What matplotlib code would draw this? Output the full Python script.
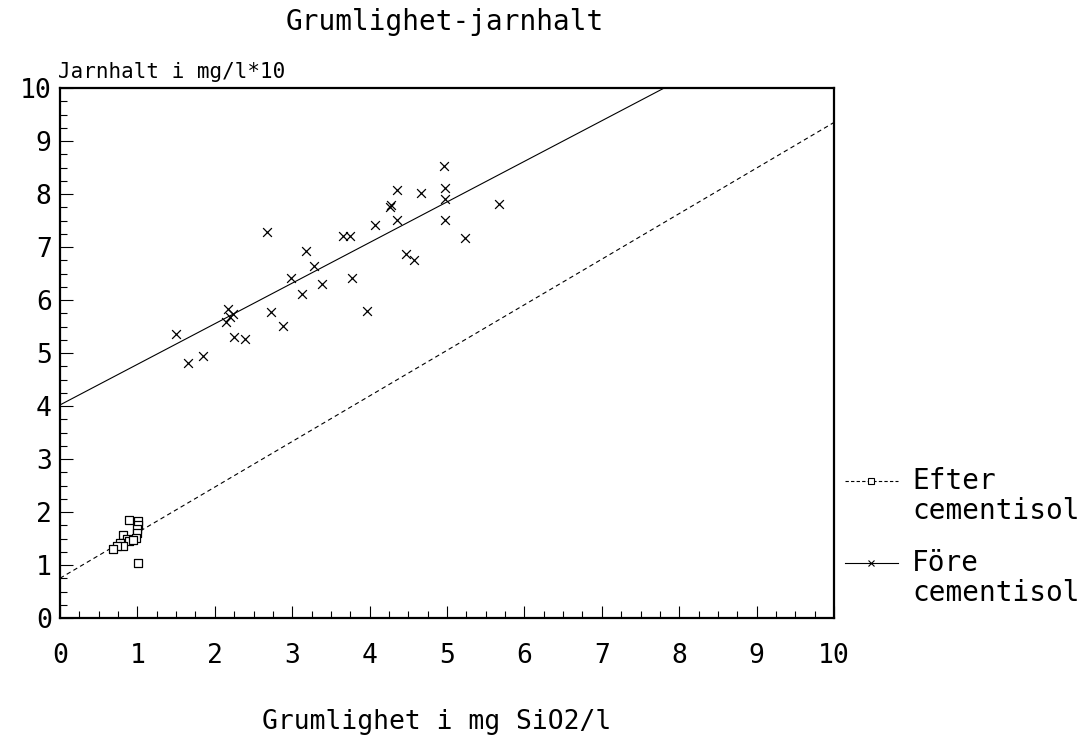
import matplotlib
matplotlib.use("Agg")
import matplotlib.pyplot as plt
from matplotlib.lines import Line2D
from matplotlib.ticker import MultipleLocator
import numpy as np

# ---- data ----
fore_x = [1.50, 1.66, 1.85, 2.68, 2.17, 2.23, 2.15, 2.19, 2.25, 2.39, 2.73, 2.88,
          2.98, 3.18, 3.13, 3.28, 3.38, 3.66, 3.75, 3.77, 3.97, 4.07, 4.26, 4.28,
          4.36, 4.36, 4.47, 4.57, 4.67, 4.97, 4.97, 4.97, 5.23, 5.67, 4.96]
fore_y = [5.36, 4.82, 4.94, 7.28, 5.83, 5.74, 5.58, 5.67, 5.31, 5.26, 5.77, 5.51,
          6.42, 6.92, 6.11, 6.64, 6.31, 7.21, 7.21, 6.41, 5.80, 7.42, 7.76, 7.79,
          8.07, 7.51, 6.87, 6.75, 8.01, 8.12, 7.91, 7.51, 7.17, 7.82, 8.53]

efter_x = [0.89, 1.01, 1.01, 1.00, 0.99, 0.98, 0.81, 0.86, 0.89, 0.78, 0.81,
           0.74, 0.69, 0.94, 1.01]
efter_y = [1.85, 1.83, 1.75, 1.67, 1.60, 1.51, 1.56, 1.50, 1.46, 1.42, 1.36,
           1.36, 1.31, 1.48, 1.04]

fore_intercept, fore_slope = 4.02, 0.766
efter_intercept, efter_slope = 0.75, 0.86
fit_x = np.array([0.0, 10.0])

x_ticks = list(range(0, 11))
y_ticks = list(range(0, 11))

title = "Grumlighet-jarnhalt"
ylabel = "Jarnhalt i mg/l*10"
xlabel = "Grumlighet i mg SiO2/l"
legend_labels = [("Efter", "cementisol"), ("Före", "cementisol")]

FONT = ["DejaVu Sans Mono", "DejaVu Sans"]
plt.rcParams["font.family"] = FONT

fig = plt.figure(figsize=(10.87, 7.38), dpi=100)
ax = fig.add_axes([60 / 1087, 1 - 618 / 738, (834 - 60) / 1087, (618 - 88) / 738])

ax.plot(fit_x, fore_intercept + fore_slope * fit_x, color="black", lw=0.8)
ax.plot(fit_x, efter_intercept + efter_slope * fit_x, color="black", lw=0.8,
        linestyle=(0, (4, 3)))
ax.scatter(fore_x, fore_y, marker="x", s=40, color="black", linewidths=0.9, zorder=3)
ax.scatter(efter_x, efter_y, marker="s", s=26, facecolors="white",
           edgecolors="black", linewidths=0.9, zorder=3)

ax.set_xlim(0, 10)
ax.set_ylim(0, 10)
ax.set_xticks(x_ticks)
ax.set_yticks(y_ticks)
ax.xaxis.set_minor_locator(MultipleLocator(0.25))
ax.yaxis.set_minor_locator(MultipleLocator(0.25))
ax.tick_params(axis="both", which="major", direction="in", length=9, width=0.8,
               labelsize=19, top=False, right=False)
ax.tick_params(axis="both", which="minor", direction="in", length=5, width=0.8,
               top=False, right=False)
ax.tick_params(axis="x", which="major", pad=18)
ax.tick_params(axis="y", which="major", pad=6)
for s in ax.spines.values():
    s.set_linewidth(1.6)

fig.text(445 / 1087, 1 - 22 / 738, title, ha="center", va="center", fontsize=20)
fig.text(58 / 1087, 1 - 72 / 738, ylabel, ha="left", va="center", fontsize=15)
fig.text(437 / 1087, 1 - 722 / 738, xlabel, ha="center", va="center", fontsize=19)

# legend (drawn outside the axes on the right)
handles = [dict(ls=(0, (3, 2)), marker="s", mfc="white", y=481),
           dict(ls="-", marker="x", mfc="black", y=563)]
for h, (l1, l2) in zip(handles, legend_labels):
    yy = 1 - h["y"] / 738
    fig.add_artist(Line2D([845 / 1087, 898 / 1087], [yy, yy], transform=fig.transFigure,
                          color="black", lw=0.8, linestyle=h["ls"]))
    fig.add_artist(Line2D([871 / 1087], [yy], transform=fig.transFigure,
                          color="black", marker=h["marker"], markersize=5,
                          mfc=h["mfc"], mew=0.8, linestyle="none"))
    fig.text(912 / 1087, yy, l1, ha="left", va="center", fontsize=20)
    fig.text(912 / 1087, yy - 30 / 738, l2, ha="left", va="center", fontsize=20)

fig.savefig("out.png", dpi=100)
